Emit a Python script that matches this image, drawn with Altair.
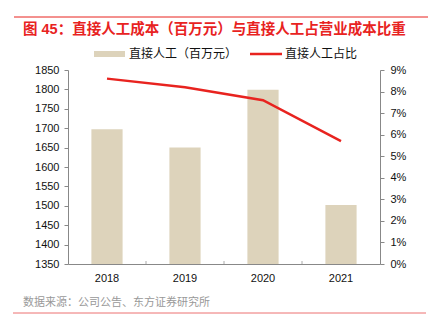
import altair as alt
import pandas as pd

years = ["2018", "2019", "2020", "2021"]
labor_cost = [1697, 1650, 1799, 1502]
labor_ratio = [0.086, 0.082, 0.076, 0.057]

title_text = "图 45：直接人工成本（百万元）与直接人工占营业成本比重"
legend_bar = "直接人工（百万元）"
legend_line = "直接人工占比"
source_text = "数据来源：公司公告、东方证券研究所"

left_ticks = [1350, 1400, 1450, 1500, 1550, 1600, 1650, 1700, 1750, 1800, 1850]
right_ticks = [0, 0.01, 0.02, 0.03, 0.04, 0.05, 0.06, 0.07, 0.08, 0.09]

FONT = "Liberation Sans, Arial, Noto Sans CJK SC"
BAR_COLOR = "#ddd3bb"
LINE_COLOR = "#e8231f"

df = pd.DataFrame({"year": years, "cost": labor_cost, "ratio": labor_ratio})

xenc = alt.X("year:N", title=None, sort=years,
             scale=alt.Scale(paddingInner=0.6, paddingOuter=0.3),
             axis=alt.Axis(labelAngle=0, labelFontSize=11, labelColor="#111",
                           labelPadding=8, domainColor="#888", ticks=False,
                           labelFont=FONT))

bars = alt.Chart(df).mark_bar(color=BAR_COLOR, clip=True).encode(
    x=xenc,
    y=alt.Y("cost:Q", title=None,
            scale=alt.Scale(domain=[1350, 1850], nice=False, zero=False),
            axis=alt.Axis(values=left_ticks, format="d", grid=False, orient="left",
                          labelFontSize=11, labelColor="#111", labelFont=FONT,
                          domainColor="#888", tickColor="#888", tickSize=4,
                          labelPadding=5)),
)

line = alt.Chart(df).mark_line(color=LINE_COLOR, strokeWidth=2.5).encode(
    x=alt.X("year:N", sort=years),
    y=alt.Y("ratio:Q", title=None,
            scale=alt.Scale(domain=[0, 0.09], nice=False),
            axis=alt.Axis(values=right_ticks, format=".0%", grid=False, orient="right",
                          labelFontSize=11, labelColor="#111", labelFont=FONT,
                          domainColor="#888", tickColor="#888", tickSize=4,
                          labelPadding=6)),
)

xticks = alt.Chart(df).transform_filter(alt.datum.year != "2018").mark_rule(
    color="#aaa", strokeWidth=1, xOffset=-23.4).encode(
    x=alt.X("year:N", sort=years, bandPosition=0),
    y=alt.value(191), y2=alt.value(194))

one = alt.Data(values=[{"a": 1}])

def txt(s, x, y, size, color, weight="normal"):
    return alt.Chart(one).mark_text(align="left", baseline="middle", fontSize=size,
                                    color=color, fontWeight=weight, font=FONT).encode(
        x=alt.value(x), y=alt.value(y), text=alt.value(s))

def hrule(x1, x2, y, color, w):
    return alt.Chart(one).mark_rule(color=color, strokeWidth=w).encode(
        x=alt.value(x1), x2=alt.value(x2), y=alt.value(y))

title = txt(title_text, -45, -40.5, 14.5, "#e8231f", "bold")
top_rule = hrule(-54, 360, -53, "#e8231f", 1)
leg_rect = alt.Chart(one).mark_rect(color=BAR_COLOR).encode(
    x=alt.value(26), x2=alt.value(57), y=alt.value(-19), y2=alt.value(-13))
leg_t1 = txt(legend_bar, 61, -16, 12, "#111")
leg_line = hrule(182, 214, -16, LINE_COLOR, 2.5)
leg_t2 = txt(legend_line, 217, -16, 12, "#111")
source = txt(source_text, -45, 233, 11, "#999")
bottom_rule = hrule(-55, 358, 243, "#ec7070", 1)

chart = alt.layer(bars, line, xticks, title, top_rule, leg_rect, leg_t1, leg_line, leg_t2,
                  source, bottom_rule).resolve_scale(y="independent").properties(
    width=312, height=194,
    autosize=alt.AutoSizeParams(type="none"),
    padding={"left": 68, "top": 70, "right": 48, "bottom": 70},
    background="white",
).configure_view(stroke=None)

chart.save("out.html", embed_options={"renderer": "svg", "actions": False})
